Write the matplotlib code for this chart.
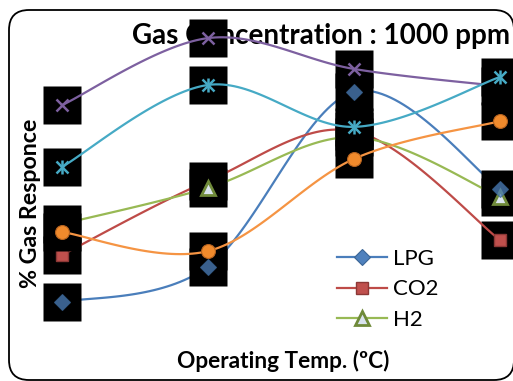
import numpy as np
import matplotlib
matplotlib.use("Agg")
import matplotlib.pyplot as plt
from matplotlib.patches import FancyBboxPatch
from matplotlib.transforms import IdentityTransform
from matplotlib.lines import Line2D

plt.rcParams['font.family'] = ['Lato', 'DejaVu Sans']

# ---- data (response %) ----
temp_index = [0, 1, 2, 3]
lpg    = [20.7, 30.0, 75.9, 50.4]
co2    = [33.1, 52.5, 65.6, 37.0]
h2     = [41.2, 50.7, 64.0, 48.3]
gas4   = [72.4, 90.0, 81.9, 77.4]
gas5   = [56.2, 77.7, 66.7, 79.8]
gas6   = [39.1, 34.1, 58.3, 68.2]
series_names = ['LPG', 'CO2', 'H2', 'Gas 4', 'Gas 5', 'Gas 6']
series_vals = [lpg, co2, h2, gas4, gas5, gas6]

title = 'Gas Concentration : 1000 ppm'
xlabel = 'Operating Temp. (\u00baC)'
ylabel = '% Gas Responce'

# ---- styles ----
line_colors = ['#4A7EBB', '#BE4B48', '#98B954', '#7D60A0', '#46AAC5', '#F59443']
marker_style = [
    dict(marker='D', ms=8.5, mfc='#4F81BD', mec='#3A6595', mew=0.8),
    dict(marker='s', ms=9, mfc='#C0504D', mec='#8C3836', mew=1.0),
    dict(marker='^', ms=10, mfc='#D9E3EE', mec='#6F8A3A', mew=2.0),
    dict(marker='x', ms=9, mfc='none', mec='#7D60A0', mew=1.8),
    dict(marker='x', ms=9, mfc='none', mec='#46AAC5', mew=1.8),
    dict(marker='o', ms=10, mfc='#F08A2C', mec='#B5621F', mew=0.8),
]
line_under_box = [True, False, True, False, False, False]
marker_z_override = {0: 29}   # LPG markers show through the later glows
marker_alpha = {0: 0.75}


def smooth(xs, ys, n=40):
    xs = np.asarray(xs, float); ys = np.asarray(ys, float)
    P = np.column_stack([xs, ys])
    out = []
    for i in range(len(P) - 1):
        p0 = P[i - 1] if i > 0 else P[i]
        p1 = P[i]; p2 = P[i + 1]
        p3 = P[i + 2] if i + 2 < len(P) else P[i + 1]
        c1 = p1 + (p2 - p0) / 6.0
        c2 = p2 - (p3 - p1) / 6.0
        t = np.linspace(0, 1, n)[:, None]
        seg = ((1 - t) ** 3) * p1 + 3 * ((1 - t) ** 2) * t * c1 + 3 * (1 - t) * t ** 2 * c2 + t ** 3 * p2
        out.append(seg if i == 0 else seg[1:])
    s = np.vstack(out)
    return s[:, 0], s[:, 1]


W, H = 513, 381
fig = plt.figure(figsize=(W / 100, H / 100), dpi=100)
fig.patch.set_facecolor('white')
ax = fig.add_axes([0, 0, 1, 1])
ax.set_facecolor('none')
ax.axis('off')
ax.set_xlim(-62 / 146, 3 + 13 / 146)
ax.set_ylim(0, 100)

for i, vals in enumerate(series_vals):
    zb = 10 + 3 * i
    sx, sy = smooth(temp_index, vals)
    zl = zb - 1 if line_under_box[i] else zb + 1
    ax.plot(sx, sy, color=line_colors[i], lw=1.6, zorder=zl, solid_capstyle='butt')
    ax.plot(temp_index, vals, ls='none', marker='s', ms=26.8, mfc='black', mec='none', zorder=zb)
    ax.plot(temp_index, vals, ls='none', zorder=marker_z_override.get(i, zb + 2),
            alpha=marker_alpha.get(i, 1.0), **marker_style[i])
    if i == 4:
        ax.plot(temp_index, vals, ls='none', marker='|', ms=10, mec='#46AAC5', mew=1.8, zorder=zb + 2)

# title, labels
ax.text(321 / W, 1 - 36 / H, title, transform=fig.transFigure, ha='center', va='center',
        fontsize=20, fontweight='bold', zorder=1)
ax.text(283 / W, 1 - 361 / H, xlabel, transform=fig.transFigure, ha='center', va='center',
        fontsize=16.3, fontweight='bold', zorder=1)
ax.text(31 / W, 1 - 203 / H, ylabel, transform=fig.transFigure, ha='center', va='center',
        rotation=90, fontsize=16.7, fontweight='bold', zorder=1)

# legend (first three series)
handles = [Line2D([0], [0], color=line_colors[i], lw=1.6, **marker_style[i]) for i in range(3)]
leg = ax.legend(handles, series_names[:3], loc='upper left', bbox_to_anchor=(337 / W, 1 - 249 / H),
                frameon=False, borderpad=0, borderaxespad=0, handlelength=2.25, handletextpad=0.25,
                labelspacing=0.47, fontsize=16)
leg.set_zorder(40)

# rounded chart border
border = FancyBboxPatch((9, H - 380), 505, 370, boxstyle='round,pad=0,rounding_size=20',
                        transform=IdentityTransform(), fill=False, ec='black', lw=1.3, zorder=50)
fig.patches.append(border)

fig.savefig('out.png', dpi=100)
